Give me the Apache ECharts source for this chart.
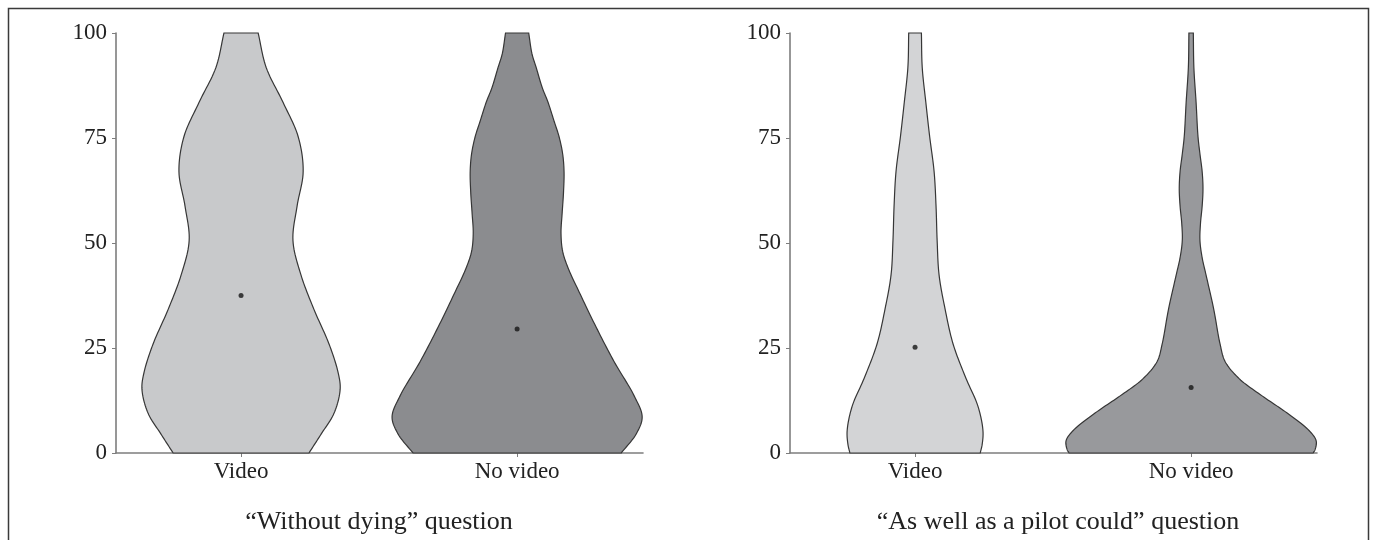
<!DOCTYPE html>
<html>
<head>
<meta charset="utf-8">
<script src="https://cdn.jsdelivr.net/npm/echarts@6/dist/echarts.min.js"></script>
<style>html,body{margin:0;padding:0;background:#fff}#c{width:1375px;height:540px}</style>
</head>
<body>
<div id="c"></div>
<script>
// ---- Data ----
var categories = ['Video', 'No video'];
var panelTitles = ['\u201CWithout dying\u201D question', '\u201CAs well as a pilot could\u201D question'];
var yTicks = [0, 25, 50, 75, 100];

// Violin profiles: [score, half-width in category units]
var withoutDyingVideo = [[0,0.246],[4.5,0.290],[9.5,0.337],[15.2,0.359],[19.3,0.351],[25.9,0.319],[34.2,0.264],[42.4,0.217],[50.6,0.188],[58.8,0.203],[67,0.225],[75.3,0.207],[83.5,0.152],[91.8,0.091],[100,0.062]];
var withoutDyingNoVideo = [[0,0.377],[4.5,0.431],[8.6,0.453],[13.6,0.424],[21.8,0.351],[30,0.286],[38.3,0.225],[44,0.185],[48,0.165],[52.3,0.159],[57,0.163],[62,0.168],[67,0.170],[71.2,0.165],[75.3,0.152],[79,0.134],[83.5,0.112],[87,0.091],[91.8,0.069],[95,0.054],[100,0.042]];
var pilotVideo = [[0,0.236],[2,0.243],[5.3,0.246],[11.1,0.228],[17.7,0.185],[25.9,0.138],[34.2,0.109],[42.4,0.087],[50.6,0.080],[58.8,0.076],[67,0.069],[75.3,0.053],[83.5,0.039],[91.8,0.026],[100,0.023]];
var pilotNoVideo = [[0,0.442],[0.8,0.449],[2.9,0.453],[5.3,0.428],[9.5,0.348],[13.6,0.257],[17.7,0.174],[21.8,0.123],[25.9,0.105],[34.2,0.082],[42.4,0.054],[46.5,0.040],[50.6,0.032],[54.7,0.034],[58.8,0.040],[62.9,0.043],[67,0.040],[71.2,0.032],[75.3,0.025],[83.5,0.018],[91.8,0.010],[100,0.008]];

// Means (dots)
var withoutDyingMeans = [37.5, 29.5];
var pilotMeans = [25.2, 15.6];

// ---- Chart ----
var FONT = '"Liberation Serif","DejaVu Serif",serif';
var panels = [
  {profiles:[withoutDyingVideo, withoutDyingNoVideo], means:withoutDyingMeans, colors:['#c8c9cb','#8b8c8f']},
  {profiles:[pilotVideo, pilotNoVideo], means:pilotMeans, colors:['#d3d4d6','#98999c']}
];

// centripetal Catmull-Rom through pixel points
function catmull(pts, seg) {
  var out = [];
  var n = pts.length;
  function tj(ti, a, b) {
    var d = Math.sqrt((b[0]-a[0])*(b[0]-a[0]) + (b[1]-a[1])*(b[1]-a[1]));
    return ti + Math.max(Math.sqrt(d), 1e-4);
  }
  for (var i = 0; i < n - 1; i++) {
    var p1 = pts[i], p2 = pts[i+1];
    var p0 = i > 0 ? pts[i-1] : [2*p1[0]-p2[0], 2*p1[1]-p2[1]];
    var p3 = i + 2 < n ? pts[i+2] : [2*p2[0]-p1[0], 2*p2[1]-p1[1]];
    var t0 = 0, t1 = tj(t0,p0,p1), t2 = tj(t1,p1,p2), t3 = tj(t2,p2,p3);
    for (var s = 0; s < seg; s++) {
      var t = t1 + (t2 - t1) * s / seg;
      var pt = [0,0];
      for (var k = 0; k < 2; k++) {
        var A1 = (t1-t)/(t1-t0)*p0[k] + (t-t0)/(t1-t0)*p1[k];
        var A2 = (t2-t)/(t2-t1)*p1[k] + (t-t1)/(t2-t1)*p2[k];
        var A3 = (t3-t)/(t3-t2)*p2[k] + (t-t2)/(t3-t2)*p3[k];
        var B1 = (t2-t)/(t2-t0)*A1 + (t-t0)/(t2-t0)*A2;
        var B2 = (t3-t)/(t3-t1)*A2 + (t-t1)/(t3-t1)*A3;
        pt[k] = (t2-t)/(t2-t1)*B1 + (t-t1)/(t2-t1)*B2;
      }
      out.push(pt);
    }
  }
  out.push(pts[n-1]);
  return out;
}

function makeRender(panel) {
  return function (params, api) {
    var idx = params.dataIndex;
    var center = api.value(0);
    var prof = panel.profiles[idx];
    var right = prof.map(function (p) { return api.coord([center + p[1], p[0]]); });
    var left = prof.map(function (p) { return api.coord([center - p[1], p[0]]); });
    var r = catmull(right, 12);
    var l = catmull(left, 12).reverse();
    return {
      type: 'polygon',
      shape: {points: r.concat(l)},
      style: {fill: panel.colors[idx], stroke: '#363636', lineWidth: 1.2}
    };
  };
}

var grids = [
  {left: 116, right: 732, top: 33, bottom: 87},
  {left: 790, right: 58, top: 33, bottom: 87}
];

var xAxes = [], yAxes = [], series = [];
for (var g = 0; g < 2; g++) {
  xAxes.push({
    type: 'value', gridIndex: g, min: 0.547, max: 2.456,
    splitLine: {show: false},
    axisLine: {show: true, onZero: false, lineStyle: {color: '#7d7d7d', width: 1.6}},
    axisTick: {show: true, customValues: [1, 2], length: 4, lineStyle: {color: '#7d7d7d', width: 1}},
    axisLabel: {show: true, customValues: [1, 2], margin: 7, fontFamily: FONT, fontSize: 23, color: '#222',
      formatter: function (v) { return categories[Math.round(v) - 1] || ''; }}
  });
  yAxes.push({
    type: 'value', gridIndex: g, min: 0, max: 100, interval: 25,
    splitLine: {show: false},
    axisLine: {show: true, lineStyle: {color: '#7d7d7d', width: 1.6}},
    axisTick: {show: true, length: 4, lineStyle: {color: '#7d7d7d', width: 1}},
    axisLabel: {margin: 9, fontFamily: FONT, fontSize: 23, color: '#222',
      formatter: function (v) { return yTicks.indexOf(v) >= 0 ? String(v) : ''; }}
  });
  series.push({
    type: 'custom', xAxisIndex: g, yAxisIndex: g,
    renderItem: makeRender(panels[g]),
    data: categories.map(function (c, i) { return [i + 1, 0]; }),
    encode: {x: 0, y: 1},
    clip: false, silent: true, z: 2
  });
  series.push({
    type: 'scatter', xAxisIndex: g, yAxisIndex: g,
    data: panels[g].means.map(function (m, i) { return [i + 1, m]; }),
    symbol: 'circle', symbolSize: 5,
    itemStyle: {color: '#151515'}, silent: true, z: 5
  });
}

var chart = echarts.init(document.getElementById('c'), null, {renderer: 'canvas'});
chart.setOption({
  backgroundColor: '#ffffff',
  animation: false,
  grid: grids,
  xAxis: xAxes,
  yAxis: yAxes,
  series: series,
  graphic: [
    {type: 'rect', shape: {x: 8.5, y: 8.5, width: 1360, height: 600}, style: {fill: 'none', stroke: '#3a3a3a', lineWidth: 1.5}, z: -1},
    {type: 'text', x: 379, y: 522, style: {text: panelTitles[0], textAlign: 'center', textVerticalAlign: 'middle', fontFamily: FONT, fontSize: 26, fill: '#222'}},
    {type: 'text', x: 1058, y: 522, style: {text: panelTitles[1], textAlign: 'center', textVerticalAlign: 'middle', fontFamily: FONT, fontSize: 26, fill: '#222'}}
  ]
});
</script>
</body>
</html>
